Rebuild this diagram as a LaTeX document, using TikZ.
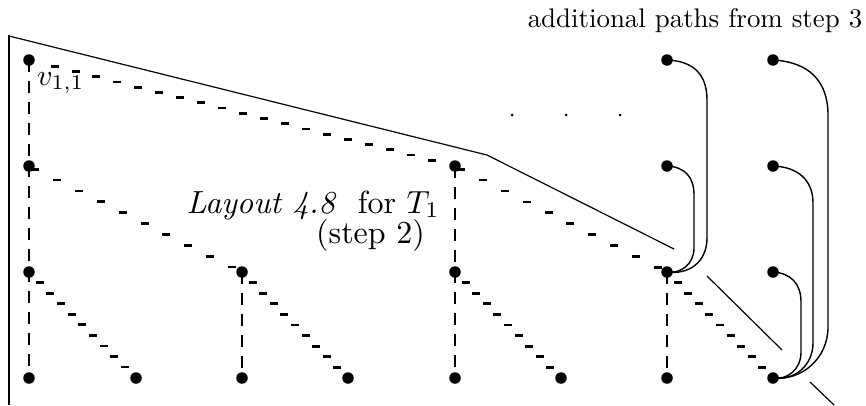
\documentclass[tikz,border=0pt]{standalone}
\usepackage{graphicx}
\usetikzlibrary{decorations.markings}
\begin{document}
\begin{tikzpicture}[x=1pt,y=-1pt,
  dot/.style={circle,fill=black,inner sep=0pt,minimum size=11.5pt},
  smalldot/.style={circle,fill=black,inner sep=0pt,minimum size=3pt},
  lbl/.style={inner sep=0pt},
  vdash/.style={line width=2.8pt,dash pattern=on 12pt off 9pt},
  hdash/.style={decorate,decoration={markings,
     mark=between positions #1 with {\pgftransformresetnontranslations
       \draw[line width=2.8pt] (-4pt,0) -- (4pt,0);}}},
  thin/.style={line width=1.2pt},
  curve/.style={line width=1.4pt},
  border/.style={line width=2.2pt}]
\useasboundingbox (0,0) rectangle (866,405);
% nodes
\node[dot] (a1) at (29,60) {};
\node[dot] (a2) at (29,166) {};
\node[dot] (a3) at (29,272) {};
\node[dot] (a4) at (29,378) {};
\node[dot] (b4) at (136,378) {};
\node[dot] (c3) at (242,272) {};
\node[dot] (c4) at (242,378) {};
\node[dot] (d4) at (348,378) {};
\node[dot] (e2) at (455,166) {};
\node[dot] (e3) at (455,272) {};
\node[dot] (e4) at (455,378) {};
\node[dot] (f4) at (561,378) {};
\node[dot] (g1) at (667,60) {};
\node[dot] (g2) at (667,166) {};
\node[dot] (g3) at (667,272) {};
\node[dot] (g4) at (667,378) {};
\node[dot] (h1) at (773,60) {};
\node[dot] (h2) at (773,166) {};
\node[dot] (h3) at (773,272) {};
\node[dot] (h4) at (773,378) {};
\node[smalldot] (p1) at (512,115) {};
\node[smalldot] (p2) at (566,115) {};
\node[smalldot] (p3) at (620,115) {};
% vertical dashed edges
\draw[vdash] (a1.center) -- (a4.center);
\draw[vdash] (c3.center) -- (c4.center);
\draw[vdash] (e2.center) -- (e4.center);
\draw[vdash] (g3.center) -- (g4.center);
% diagonal edges drawn with horizontal dash marks
\path[hdash={0.06 and 0.99 step 21.6pt}] (a1.center) -- (e2.center);
\path[hdash={0.03 and 0.99 step 24.4pt}] (a2.center) -- (c3.center);
\path[hdash={0.03 and 0.99 step 24.4pt}] (e2.center) -- (g3.center);
\path[hdash={0.1 and 0.95 step 15pt}] (a3.center) -- (b4.center);
\path[hdash={0.1 and 0.95 step 15pt}] (c3.center) -- (d4.center);
\path[hdash={0.1 and 0.95 step 15pt}] (e3.center) -- (f4.center);
\path[hdash={0.1 and 0.95 step 15pt}] (g3.center) -- (h4.center);
% frame lines
\coordinate (tl) at (9,35);
\coordinate (bl) at (9,405);
\coordinate (k1) at (9,36);
\coordinate (k2) at (487,155);
\coordinate (k3) at (674,249);
\coordinate (k4) at (707,276);
\coordinate (k5) at (782,350);
\coordinate (k6) at (810,382);
\coordinate (k7) at (834,405);
\draw[border] (tl) -- (bl);
\draw[thin] (k1) -- (k2) -- (k3);
\draw[thin] (k4) -- (k5);
\draw[thin] (k6) -- (k7);
% additional paths
\draw[curve] (g1.center) .. controls +(26,1) and +(0,-26) .. (707,100) -- (707,238)
   .. controls +(0,24) and +(22,3) .. (g3.center);
\draw[curve] (g2.center) .. controls +(18,1) and +(0,-18) .. (694,195) -- (694,248)
   .. controls +(0,16) and +(14,2) .. (g3.center);
\draw[curve] (h1.center) .. controls +(36,2) and +(0,-34) .. (828,115) -- (828,327)
   .. controls +(0,32) and +(28,3) .. (h4.center);
\draw[curve] (h2.center) .. controls +(26,1) and +(0,-22) .. (813,203) -- (813,343)
   .. controls +(0,22) and +(22,3) .. (h4.center);
\draw[curve] (h3.center) .. controls +(18,1) and +(0,-18) .. (801,302) -- (801,352)
   .. controls +(0,18) and +(14,2) .. (h4.center);
% labels
\node[lbl,anchor=base] (t1) at (695,27) {\scalebox{2.69}{additional paths from step 3}};
\node[lbl,anchor=base west] (t2) at (37,85) {\scalebox{3.0}{$v_{1,1}$}};
\node[lbl,anchor=base east] (t3) at (440,213) {\scalebox{3.2}{\textit{Layout 4.8}\ \ for $T_1$}};
\node[lbl,anchor=base east] (t4) at (425,243) {\scalebox{3.2}{(step 2)}};
\end{tikzpicture}
\end{document}
